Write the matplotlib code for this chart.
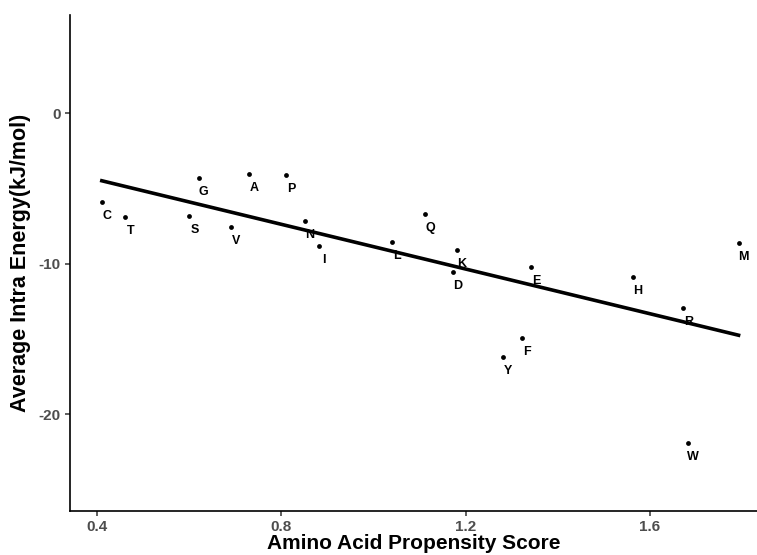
import matplotlib
matplotlib.use("Agg")
import matplotlib.pyplot as plt
import numpy as np

plt.rcParams['font.family'] = ['Liberation Sans', 'DejaVu Sans']

amino = ['C', 'T', 'S', 'G', 'A', 'P', 'V', 'N', 'I', 'L', 'Q', 'K', 'D', 'E', 'H', 'R', 'F', 'Y', 'W', 'M']
propensity = [0.411, 0.462, 0.601, 0.621, 0.731, 0.811, 0.691, 0.851, 0.881, 1.041,
              1.112, 1.181, 1.172, 1.342, 1.562, 1.672, 1.322, 1.282, 1.683, 1.792]
energy = [-5.87, -6.89, -6.85, -4.29, -4.03, -4.09, -7.56, -7.16, -8.85, -8.56,
          -6.71, -9.11, -10.56, -10.23, -10.89, -12.96, -14.93, -16.23, -21.93, -8.62]
xticks = [0.4, 0.8, 1.2, 1.6]
yticks = [0, -10, -20]

fig = plt.figure(figsize=(7.57, 5.55), dpi=100)
ax = fig.add_axes([70/757, 1 - 511/555, (757-70)/757, (511-15)/555])

x = np.array(propensity)
y = np.array(energy)
ax.scatter(x, y, s=12, color='black', zorder=3, linewidths=0)
for a, xi, yi in zip(amino, x, y):
    ax.annotate(a, (xi, yi), xytext=(3.6, -10), textcoords='offset points',
                ha='center', va='center', fontsize=9, fontweight='bold')

coef = np.polyfit(x, y, 1)
xs = np.array([x.min(), x.max()])
ax.plot(xs, np.polyval(coef, xs), color='black', lw=2.6, zorder=2)

ax.set_xlim(0.342, 1.832)
ax.set_ylim(-26.45, 6.55)
ax.set_xticks(xticks)
ax.set_xticklabels([str(t) for t in xticks])
ax.set_yticks(yticks)
ax.set_yticklabels([str(t) for t in yticks])
for sp in ['top', 'right']:
    ax.spines[sp].set_visible(False)
for sp in ['left', 'bottom']:
    ax.spines[sp].set_linewidth(1.2)
    ax.spines[sp].set_color('black')
ax.tick_params(axis='both', length=3.5, width=1.1, color='#333333',
               labelsize=11, labelcolor='#4D4D4D', pad=3)
for lab in ax.get_xticklabels() + ax.get_yticklabels():
    lab.set_fontweight('bold')
ax.set_xlabel('Amino Acid Propensity Score', fontsize=15, fontweight='bold', labelpad=0)
ax.set_ylabel('Average Intra Energy(kJ/mol)', fontsize=15.5, fontweight='bold', labelpad=6)

fig.savefig('out.png', dpi=100)
